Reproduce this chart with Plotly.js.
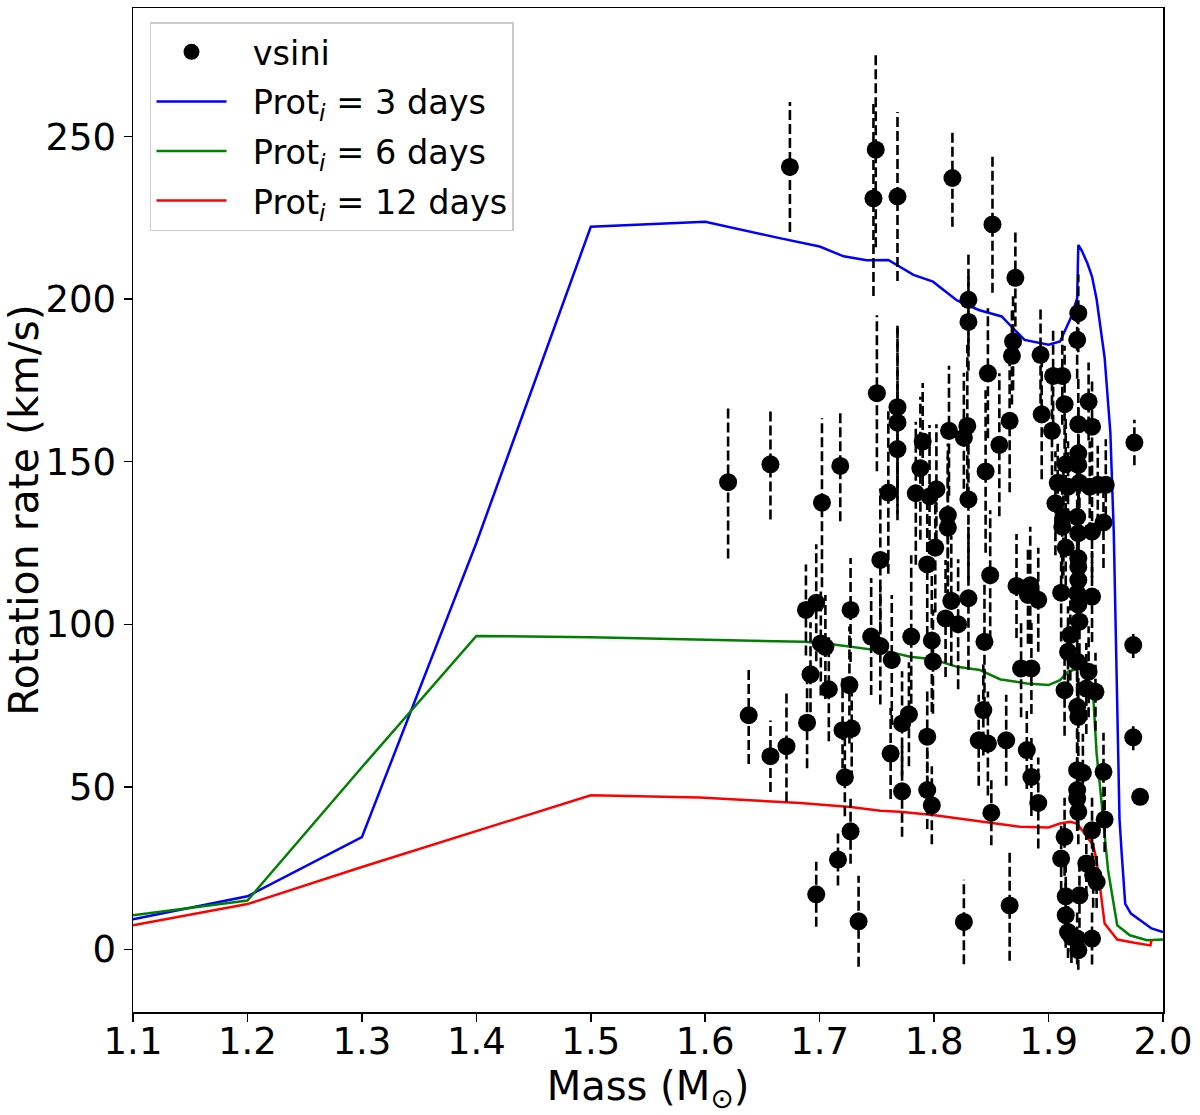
<!DOCTYPE html>
<html>
<head>
<meta charset="utf-8">
<script src="https://cdn.plot.ly/plotly-3.0.1.min.js"></script>
<style>
  html, body { margin: 0; padding: 0; background: #fff; }
  #chart { width: 1200px; height: 1115px; }
</style>
</head>
<body>
<div id="chart"></div>
<script>
// vsini measurements: stellar mass (Msun), vsini (km/s), error (km/s)
const starMass = [
  1.620, 1.657, 1.674, 1.702, 1.718, 1.750, 1.749, 1.747, 1.768, 1.816,
  1.851, 1.871, 1.830, 1.830, 1.869, 1.868, 1.893, 1.926, 1.925, 1.847,
  1.904, 1.912, 1.914, 1.935, 1.866, 1.894, 1.903, 1.926, 1.938, 1.857,
  1.926, 1.845, 1.915, 1.926, 1.908, 1.917, 1.927, 1.936, 1.943, 1.950,
  1.906, 1.913, 1.925, 1.912, 1.926, 1.938, 1.948, 1.915, 1.926, 1.926,
  1.849, 1.926, 1.872, 1.884, 1.882, 1.891, 1.911, 1.925, 1.938, 1.926,
  1.927, 1.844, 1.919, 1.974, 1.975, 1.876, 1.885, 1.917, 1.925, 1.935,
  1.914, 1.933, 1.941, 1.843, 1.925, 1.926, 1.847, 1.863, 1.881, 1.974,
  1.885, 1.925, 1.930, 1.948, 1.925, 1.925, 1.891, 1.980, 1.850, 1.926,
  1.949, 1.938, 1.914, 1.911, 1.933, 1.939, 1.942, 1.866, 1.915, 1.927,
  1.915, 1.917, 1.925, 1.938, 1.926, 1.920, 1.768, 1.768, 1.768, 1.790,
  1.788, 1.813, 1.829, 1.826, 1.760, 1.784, 1.796, 1.802, 1.830, 1.812,
  1.812, 1.801, 1.794, 1.753, 1.688, 1.697, 1.727, 1.815, 1.830, 1.810,
  1.821, 1.745, 1.753, 1.780, 1.798, 1.701, 1.705, 1.799, 1.763, 1.692,
  1.708, 1.726, 1.638, 1.689, 1.720, 1.728, 1.772, 1.778, 1.794, 1.839,
  1.657, 1.671, 1.762, 1.722, 1.772, 1.794, 1.798, 1.727, 1.716, 1.697,
  1.734, 1.826
];
const vsini = [
  143.7, 149.2, 240.7, 137.4, 148.7, 171.1, 246.0, 231.0, 231.6, 237.3,
  223.0, 206.6, 199.8, 193.0, 187.0, 182.6, 182.9, 195.7, 187.5, 177.2,
  176.4, 176.4, 167.7, 168.5, 162.6, 164.6, 159.5, 161.5, 160.8, 155.2,
  152.6, 147.0, 149.2, 149.0, 143.5, 142.3, 143.5, 142.3, 142.9, 142.9,
  137.2, 133.0, 133.0, 130.0, 128.0, 128.5, 131.3, 123.6, 120.3, 117.7,
  115.1, 113.6, 111.8, 112.0, 109.0, 107.5, 109.7, 109.5, 108.5, 106.0,
  100.8, 94.6, 96.7, 93.6, 155.9, 86.4, 86.4, 91.5, 88.5, 85.4,
  79.7, 80.2, 79.2, 73.6, 74.6, 71.5, 63.3, 64.3, 61.3, 65.2,
  53.0, 55.1, 54.3, 54.6, 49.0, 46.4, 45.0, 46.9, 42.0, 42.3,
  39.9, 36.6, 34.6, 27.9, 26.4, 22.8, 20.7, 13.5, 16.3, 16.6,
  10.5, 5.3, 3.3, 3.3, -0.3, 3.8, 166.8, 162.0, 153.9, 156.2,
  148.0, 159.5, 161.0, 157.4, 140.5, 140.3, 139.3, 141.5, 138.4, 133.6,
  129.7, 123.6, 118.4, 119.8, 104.4, 106.6, 104.4, 107.2, 108.0, 101.8,
  100.0, 96.2, 93.3, 96.2, 95.0, 94.1, 93.0, 88.5, 89.0, 84.6,
  80.0, 81.3, 72.0, 69.7, 67.4, 67.9, 69.5, 72.3, 65.4, 64.3,
  59.4, 62.5, 60.2, 52.9, 48.6, 49.0, 44.3, 36.3, 27.6, 16.9,
  8.6, 8.4
];
const vsiniErr = [
  23.5, 17, 20, 26, 17, 24, 30, 30, 26, 15,
  21, 15, 15, 15, 15, 15, 15, 12, 12, 20,
  15, 15, 18, 12, 22, 20, 18, 15, 15, 22,
  15, 25, 15, 15, 12, 14, 12, 14, 12, 14,
  16, 18, 15, 16, 15, 14, 14, 16, 15, 15,
  20, 15, 16, 18, 15, 16, 15, 15, 14, 15,
  14, 20, 14, 4, 7, 15, 14, 14, 14, 14,
  14, 14, 12, 14, 14, 12, 16, 14, 12, 4,
  12, 12, 12, 12, 10, 10, 14, 2, 10, 10,
  10, 10, 12, 10, 10, 10, 8, 17, 10, 10,
  10, 8, 8, 8, 6, 8, 25, 30, 20, 18,
  22, 20, 25, 20, 25, 22, 22, 20, 25, 22,
  22, 20, 22, 22, 14, 18, 16, 20, 22, 18,
  20, 18, 18, 25, 22, 16, 16, 16, 20, 16,
  16, 18, 15, 14, 16, 16, 16, 16, 15, 14,
  11, 17, 14, 12, 14, 12, 12, 10, 8, 10,
  14, 13
];

// model tracks for three initial rotation periods
const mass3d = [1.1, 1.2, 1.3, 1.4, 1.5, 1.6, 1.665, 1.70, 1.721, 1.741, 1.760, 1.782, 1.799,
  1.820, 1.839, 1.859, 1.879, 1.900, 1.910, 1.920, 1.925, 1.926, 1.929, 1.934, 1.938, 1.942,
  1.949, 1.954, 1.957, 1.959, 1.962, 1.964, 1.967, 1.972, 1.98, 1.99, 2.0];
const rot3d = [9.2, 16.3, 34.5, 125, 222.3, 223.8, 218.8, 216.2, 213.2, 212.0, 212.1, 207.5, 205.4,
  199.6, 196.7, 194.7, 187.5, 186.0, 187.0, 194.7, 200.3, 216.7, 215.0, 211.0, 207.0, 200.0,
  182.0, 159.0, 128.0, 95.0, 40.0, 29.0, 14.0, 11.0, 8.9, 6.4, 5.3];

const mass6d = [1.1, 1.2, 1.3, 1.4, 1.5, 1.595, 1.686, 1.709, 1.741, 1.761, 1.779, 1.799, 1.820,
  1.840, 1.858, 1.863, 1.881, 1.900, 1.910, 1.917, 1.927, 1.933, 1.939, 1.942, 1.945, 1.949,
  1.952, 1.960, 1.971, 1.986, 2.0];
const rot6d = [10.5, 15.0, 56.0, 96.4, 96.0, 95.3, 94.6, 93.9, 92.3, 91.5, 90.0, 89.2, 86.9,
  85.9, 83.0, 82.8, 81.8, 81.3, 82.8, 85.4, 86.5, 84.0, 78.2, 60.2, 50.0, 34.6,
  24.3, 7.4, 4.3, 2.8, 3.0];

const mass12d = [1.1, 1.2, 1.3, 1.4, 1.5, 1.595, 1.683, 1.727, 1.753, 1.770, 1.799, 1.828, 1.858,
  1.875, 1.900, 1.910, 1.919, 1.925, 1.939, 1.942, 1.949, 1.960, 1.975, 1.989, 1.990];
const rot12d = [7.4, 13.9, 25.3, 36.4, 47.4, 46.7, 45.0, 43.8, 42.6, 42.3, 41.3, 39.9, 38.5,
  37.7, 37.5, 38.7, 39.2, 38.7, 32.0, 27.4, 7.9, 3.0, 2.0, 1.2, 2.8];

const FONT = 'DejaVu Sans, Liberation Sans, sans-serif';
const PAD = '\u00a0\u00a0';   // a little extra room between legend symbol and text

// dashed error bars as line segments (Plotly error_y can't dash)
const barX = [], barY = [];
starMass.forEach((m, i) => {
    barX.push(m, m, null);
    barY.push(vsini[i] - vsiniErr[i], vsini[i] + vsiniErr[i], null);
});

const traces = [
    { x: mass3d, y: rot3d, name: PAD + 'Prot<sub><i>i</i></sub> = 3 days', type: 'scatter', mode: 'lines',
      line: { color: '#0000ff', width: 2.5 }, legendrank: 2, legendgroup: 'g2' },
    { x: mass6d, y: rot6d, name: PAD + 'Prot<sub><i>i</i></sub> = 6 days', type: 'scatter', mode: 'lines',
      line: { color: '#008000', width: 2.5 }, legendrank: 3, legendgroup: 'g3' },
    { x: mass12d, y: rot12d, name: PAD + 'Prot<sub><i>i</i></sub> = 12 days', type: 'scatter', mode: 'lines',
      line: { color: '#ff0000', width: 2.5 }, legendrank: 4, legendgroup: 'g4' },
    { x: barX, y: barY, type: 'scatter', mode: 'lines', showlegend: false, hoverinfo: 'skip',
      line: { color: '#000', width: 2.6, dash: '10px,4px' } },
    { x: starMass, y: vsini, name: PAD + 'vsini', type: 'scatter', mode: 'markers',
      marker: { color: '#000', size: 18 }, legendrank: 1, legendgroup: 'g1' }
];

const axisBase = {
    showgrid: false, zeroline: false,
    showline: true, linecolor: '#000', linewidth: 1.5, mirror: true,
    ticks: 'outside', ticklen: 8, tickwidth: 1.5, tickcolor: '#000',
    tickfont: { family: FONT, size: 37, color: '#000' }
};

const layout = {
    width: 1200, height: 1115,
    paper_bgcolor: '#fff', plot_bgcolor: '#fff',
    font: { family: FONT, color: '#000' },
    margin: { l: 133, r: 37, t: 8, b: 103 },
    xaxis: {
        ...axisBase, range: [1.1, 2.0], tick0: 1.1, dtick: 0.1, tickformat: '.1f',
        ticklabelstandoff: -12,
        title: { text: 'Mass (M<sub>⊙</sub>)', font: { family: FONT, size: 40, color: '#000' }, standoff: 8 }
    },
    yaxis: {
        ...axisBase, range: [-19.3, 289.6], tick0: 0, dtick: 50,
        title: { text: 'Rotation rate (km/s)', font: { family: FONT, size: 41, color: '#000' }, standoff: 17 }
    },
    showlegend: true,
    legend: {
        x: 0.0165, y: 0.986, xanchor: 'left', yanchor: 'top',
        bgcolor: '#fff', bordercolor: '#cccccc', borderwidth: 1.5,
        font: { family: FONT, size: 33.5, color: '#000' },
        itemwidth: 70, traceorder: 'grouped', tracegroupgap: 3
    }
};

Plotly.newPlot('chart', traces, layout, { displayModeBar: false, staticPlot: true });
</script>
</body>
</html>
